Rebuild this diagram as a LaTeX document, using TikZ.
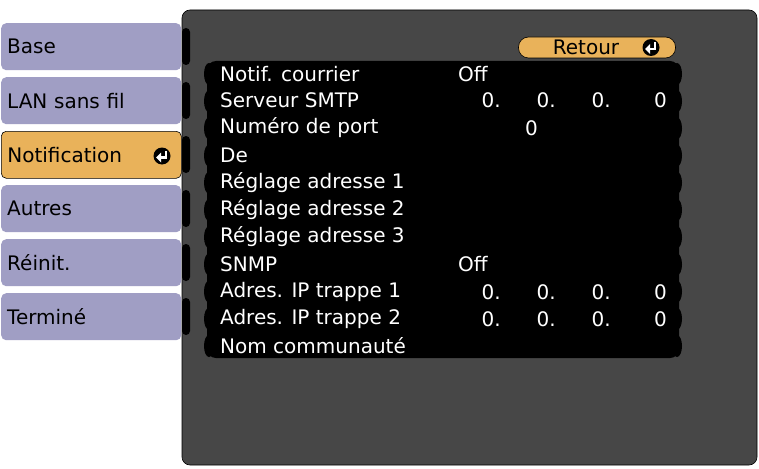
\documentclass[tikz,border=0pt]{standalone}
\usepackage{fontspec}
\setmainfont{DejaVu Sans}
\begin{document}
\begin{tikzpicture}[x=1pt,y=-1pt,
  tab/.style={draw=none,fill=tabc,rounded corners=5pt,minimum width=178pt,minimum height=47pt,anchor=north west,text width=168pt,inner xsep=6pt,align=left,font=\fontsize{20}{20}\selectfont},
  row/.style={fill=black,rounded corners=9pt},
  lbl/.style={anchor=west,text=white,font=\fontsize{20}{20}\selectfont,inner sep=0pt},
  val/.style={anchor=east,text=white,font=\fontsize{20}{20}\selectfont,inner sep=0pt}]
\definecolor{tabc}{HTML}{A09EC4}
\definecolor{selc}{HTML}{E9B25A}
\definecolor{panel}{HTML}{474747}
\useasboundingbox (0,0) rectangle (759,468);
\fill[white] (0,0) rectangle (759,468);
% panel
\fill[panel,rounded corners=8pt] (182,10) rectangle (757,465);
\draw[black,line width=0.6pt,rounded corners=8pt] (182,10) rectangle (757,465);
% tabs
\node[tab] (t1) at (1,23) {Base};
\node[tab] (t2) at (1,77) {LAN sans fil};
\node[tab,fill=selc,draw=black,line width=0.6pt] (t3) at (1,131) {Notification};
\node[tab] (t4) at (1,185) {Autres};
\node[tab] (t5) at (1,239) {Réinit.};
\node[tab] (t6) at (1,293) {Terminé};
\foreach \y in {23,77,131,185,239,293} \fill[black,rounded corners=4pt] (182,\y+5) rectangle (190,\y+42);
% enter icons
\newcommand{\entico}[2]{\fill[black] (#1,#2) circle (8.5pt);
  \draw[white,line width=2.2pt] (#1+4,#2-5) -- (#1+4,#2+1.5) -- (#1-2,#2+1.5);
  \fill[white] (#1-6,#2+1.5) -- (#1-1,#2-3.5) -- (#1-1,#2+6.5) -- cycle;}
\entico{162}{156}
% Retour
\node[fill=selc,draw=black,line width=0.6pt,rounded corners=10pt,minimum width=157pt,minimum height=21pt,font=\fontsize{20}{20}\selectfont,inner sep=0pt] (ret) at (597,47.5) {\hspace{-22pt}Retour};
\entico{651}{47.5}
% rows
\fill[row] (207,61) rectangle (679,358);
\foreach \i in {0,...,10} {
  \fill[black] (209,{74+27.2*\i}) ellipse (5pt and 11pt);
  \fill[black] (677,{74+27.2*\i}) ellipse (5pt and 11pt);
}
\node[lbl] (l1) at (220,74) {Notif. courrier};
\node[lbl] (l2) at (220,100) {Serveur SMTP};
\node[lbl] (l3) at (220,128) {Numéro de port};
\node[lbl] (l4) at (220,155) {De};
\node[lbl] (l5) at (220,183) {Réglage adresse 1};
\node[lbl] (l6) at (220,210) {Réglage adresse 2};
\node[lbl] (l7) at (220,237) {Réglage adresse 3};
\node[lbl] (l8) at (220,264) {SNMP};
\node[lbl] (l9) at (220,292) {Adres. IP trappe 1};
\node[lbl] (l10) at (220,319) {Adres. IP trappe 2};
\node[lbl] (l11) at (220,346) {Nom communauté};
\node[lbl] (v1) at (458,74) {Off};
\node[lbl] (v8) at (458,264) {Off};
\node[val] (v3) at (538,128) {0};
\foreach \y/\n in {100/a,292/b,319/c} {
  \node[val] (\n1) at (501,\y) {0.};
  \node[val] (\n2) at (556,\y) {0.};
  \node[val] (\n3) at (611,\y) {0.};
  \node[val] (\n4) at (667,\y) {0};
}
\end{tikzpicture}
\end{document}
